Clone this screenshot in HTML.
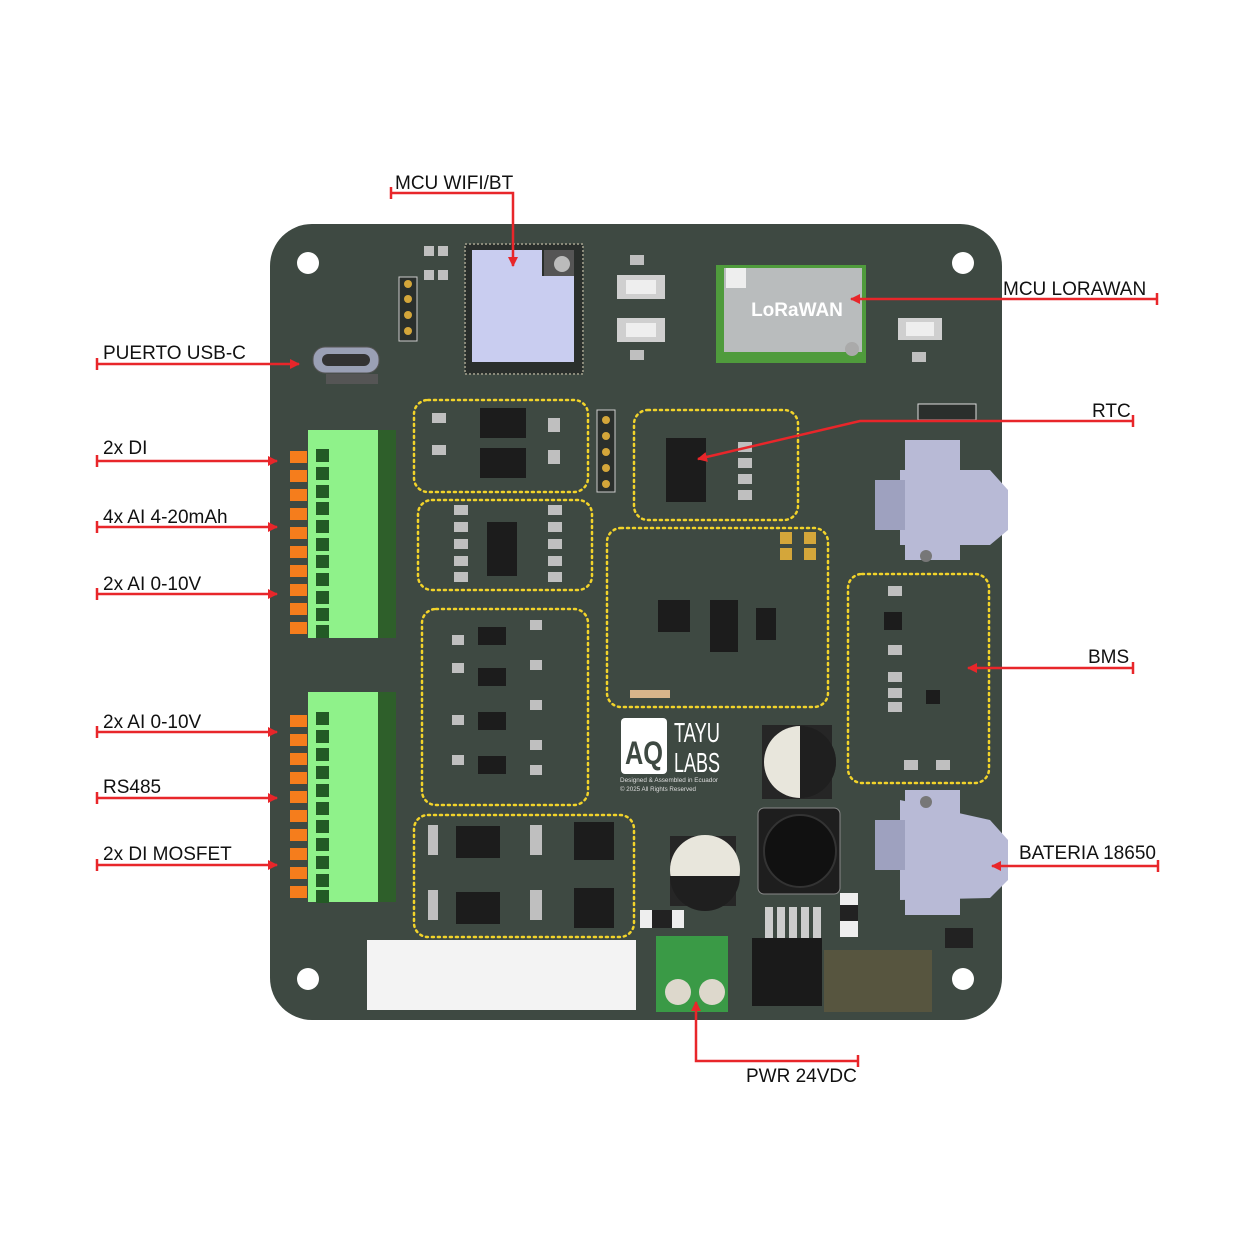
<!DOCTYPE html>
<html><head><meta charset="utf-8"><style>
html,body{margin:0;padding:0;background:#fff;}
svg{display:block;}
text{font-family:"Liberation Sans",sans-serif;}
</style></head><body>
<svg width="1256" height="1256" viewBox="0 0 1256 1256" xmlns="http://www.w3.org/2000/svg">
<defs>
<marker id="ar" markerWidth="10" markerHeight="10" refX="9" refY="5" orient="auto" markerUnits="userSpaceOnUse">
<path d="M0,0 L10,5 L0,10 z" fill="#e8262a"/></marker>
</defs>
<rect x="270" y="224" width="732" height="796" rx="42" fill="#3e4942"/>
<g fill="#fff">
<circle cx="308" cy="263" r="11"/><circle cx="963" cy="263" r="11"/>
<circle cx="308" cy="979" r="11"/><circle cx="963" cy="979" r="11"/>
</g>
<rect x="465" y="244" width="118" height="130" fill="#2a2f2c" stroke="#8a8a7a" stroke-width="2" stroke-dasharray="2 2"/>
<path d="M472,250 H542 V276 H574 V362 H472 Z" fill="#c9cdf0"/>
<rect x="544" y="250" width="30" height="26" fill="#555"/>
<circle cx="562" cy="264" r="8" fill="#bbb"/>
<rect x="399" y="277" width="18" height="64" fill="#2a2f2c" stroke="#ccc" stroke-width="1"/>
<g fill="#d4a63a"><circle cx="408" cy="284" r="4"/><circle cx="408" cy="299" r="4"/><circle cx="408" cy="315" r="4"/><circle cx="408" cy="331" r="4"/></g>
<rect x="617" y="275" width="48" height="24" fill="#cfcfcf"/><rect x="626" y="280" width="30" height="14" fill="#eee"/>
<rect x="617" y="318" width="48" height="24" fill="#cfcfcf"/><rect x="626" y="323" width="30" height="14" fill="#eee"/>
<rect x="898" y="318" width="44" height="22" fill="#cfcfcf"/><rect x="906" y="322" width="28" height="14" fill="#eee"/>
<rect x="716" y="265" width="150" height="98" fill="#4f9b3c"/>
<rect x="724" y="268" width="138" height="84" fill="#b9bcbd"/>
<rect x="726" y="268" width="20" height="20" fill="#eee"/>
<text x="797" y="316" font-size="19" fill="#fff" text-anchor="middle" font-weight="bold">LoRaWAN</text>
<circle cx="852" cy="349" r="7" fill="#aaa"/>
<rect x="313" y="347" width="66" height="26" rx="12" fill="#9aa0b5" stroke="#555"/>
<rect x="322" y="354" width="48" height="12" rx="6" fill="#333"/>
<rect x="326" y="374" width="52" height="10" fill="#555"/>
<g>
<rect x="378" y="430" width="18" height="208" fill="#2e5f2a"/>
<rect x="308" y="430" width="70" height="208" fill="#8ff28a"/>
<rect x="378" y="692" width="18" height="210" fill="#2e5f2a"/>
<rect x="308" y="692" width="70" height="210" fill="#8ff28a"/>
</g>
<g fill="#f57d1c">
<rect x="290" y="451" width="17" height="12"/><rect x="290" y="470" width="17" height="12"/><rect x="290" y="489" width="17" height="12"/><rect x="290" y="508" width="17" height="12"/><rect x="290" y="527" width="17" height="12"/><rect x="290" y="546" width="17" height="12"/><rect x="290" y="565" width="17" height="12"/><rect x="290" y="584" width="17" height="12"/><rect x="290" y="603" width="17" height="12"/><rect x="290" y="622" width="17" height="12"/>
<rect x="290" y="715" width="17" height="12"/><rect x="290" y="734" width="17" height="12"/><rect x="290" y="753" width="17" height="12"/><rect x="290" y="772" width="17" height="12"/><rect x="290" y="791" width="17" height="12"/><rect x="290" y="810" width="17" height="12"/><rect x="290" y="829" width="17" height="12"/><rect x="290" y="848" width="17" height="12"/><rect x="290" y="867" width="17" height="12"/><rect x="290" y="886" width="17" height="12"/>
</g>
<g fill="#235a25">
<rect x="316" y="449" width="13" height="13"/><rect x="316" y="467" width="13" height="13"/><rect x="316" y="485" width="13" height="13"/><rect x="316" y="502" width="13" height="13"/><rect x="316" y="520" width="13" height="13"/><rect x="316" y="538" width="13" height="13"/><rect x="316" y="555" width="13" height="13"/><rect x="316" y="573" width="13" height="13"/><rect x="316" y="591" width="13" height="13"/><rect x="316" y="608" width="13" height="13"/><rect x="316" y="625" width="13" height="13"/>
<rect x="316" y="712" width="13" height="13"/><rect x="316" y="730" width="13" height="13"/><rect x="316" y="748" width="13" height="13"/><rect x="316" y="766" width="13" height="13"/><rect x="316" y="784" width="13" height="13"/><rect x="316" y="802" width="13" height="13"/><rect x="316" y="820" width="13" height="13"/><rect x="316" y="838" width="13" height="13"/><rect x="316" y="856" width="13" height="13"/><rect x="316" y="874" width="13" height="13"/><rect x="316" y="890" width="13" height="13"/>
</g>
<g fill="none" stroke="#f2d32a" stroke-width="2.5" stroke-dasharray="2 4" stroke-linecap="round">
<rect x="414" y="400" width="174" height="92" rx="14"/>
<rect x="418" y="500" width="174" height="90" rx="14"/>
<rect x="634" y="410" width="164" height="110" rx="14"/>
<rect x="607" y="528" width="221" height="179" rx="14"/>
<rect x="422" y="609" width="166" height="196" rx="14"/>
<rect x="848" y="574" width="141" height="209" rx="14"/>
<rect x="414" y="815" width="220" height="122" rx="14"/>
</g>
<g fill="#1c1c1c">
<rect x="480" y="408" width="46" height="30"/><rect x="480" y="448" width="46" height="30"/>
<rect x="487" y="522" width="30" height="54"/>
<rect x="666" y="438" width="40" height="64"/>
<rect x="658" y="600" width="32" height="32"/>
<rect x="710" y="600" width="28" height="52"/>
<rect x="756" y="608" width="20" height="32"/>
<rect x="478" y="627" width="28" height="18"/><rect x="478" y="668" width="28" height="18"/>
<rect x="478" y="712" width="28" height="18"/><rect x="478" y="756" width="28" height="18"/>
<rect x="456" y="826" width="44" height="32"/><rect x="574" y="822" width="40" height="38"/>
<rect x="456" y="892" width="44" height="32"/><rect x="574" y="888" width="40" height="40"/>
<rect x="884" y="612" width="18" height="18"/><rect x="926" y="690" width="14" height="14"/>
</g>
<g fill="#bfbfbf">
<rect x="424" y="246" width="10" height="10"/><rect x="438" y="246" width="10" height="10"/><rect x="424" y="270" width="10" height="10"/><rect x="438" y="270" width="10" height="10"/>
<rect x="630" y="255" width="14" height="10"/><rect x="630" y="350" width="14" height="10"/><rect x="912" y="352" width="14" height="10"/>
<rect x="432" y="413" width="14" height="10"/><rect x="432" y="445" width="14" height="10"/><rect x="548" y="418" width="12" height="14"/><rect x="548" y="450" width="12" height="14"/>
<rect x="454" y="505" width="14" height="10"/><rect x="454" y="522" width="14" height="10"/><rect x="454" y="539" width="14" height="10"/><rect x="454" y="556" width="14" height="10"/><rect x="454" y="572" width="14" height="10"/>
<rect x="548" y="505" width="14" height="10"/><rect x="548" y="522" width="14" height="10"/><rect x="548" y="539" width="14" height="10"/><rect x="548" y="556" width="14" height="10"/><rect x="548" y="572" width="14" height="10"/>
<rect x="738" y="442" width="14" height="10"/><rect x="738" y="458" width="14" height="10"/><rect x="738" y="474" width="14" height="10"/><rect x="738" y="490" width="14" height="10"/>
<rect x="452" y="635" width="12" height="10"/><rect x="452" y="663" width="12" height="10"/><rect x="452" y="715" width="12" height="10"/><rect x="452" y="755" width="12" height="10"/>
<rect x="530" y="620" width="12" height="10"/><rect x="530" y="660" width="12" height="10"/><rect x="530" y="700" width="12" height="10"/><rect x="530" y="740" width="12" height="10"/><rect x="530" y="765" width="12" height="10"/>
<rect x="888" y="586" width="14" height="10"/><rect x="888" y="645" width="14" height="10"/><rect x="888" y="672" width="14" height="10"/><rect x="888" y="688" width="14" height="10"/><rect x="888" y="702" width="14" height="10"/><rect x="904" y="760" width="14" height="10"/><rect x="936" y="760" width="14" height="10"/>
<rect x="428" y="825" width="10" height="30"/><rect x="428" y="890" width="10" height="30"/><rect x="530" y="825" width="12" height="30"/><rect x="530" y="890" width="12" height="30"/>
</g>
<rect x="597" y="410" width="18" height="82" fill="#2a2f2c" stroke="#ccc" stroke-width="1"/>
<g fill="#d4a63a"><circle cx="606" cy="420" r="4"/><circle cx="606" cy="436" r="4"/><circle cx="606" cy="452" r="4"/><circle cx="606" cy="468" r="4"/><circle cx="606" cy="484" r="4"/>
<rect x="780" y="532" width="12" height="12"/><rect x="804" y="532" width="12" height="12"/><rect x="780" y="548" width="12" height="12"/><rect x="804" y="548" width="12" height="12"/></g>
<rect x="918" y="404" width="58" height="16" fill="#2a2f2c" stroke="#ddd"/>
<rect x="630" y="690" width="40" height="8" fill="#d8b48a"/>
<!-- logo -->
<rect x="621" y="718" width="46" height="56" rx="4" fill="#fff"/>
<text x="644" y="764" font-size="32" font-weight="bold" fill="#3e4942" text-anchor="middle" textLength="38" lengthAdjust="spacingAndGlyphs">AQ</text>
<text x="674" y="742" font-size="28" fill="#fff" textLength="46" lengthAdjust="spacingAndGlyphs">TAYU</text>
<text x="674" y="772" font-size="28" fill="#fff" textLength="46" lengthAdjust="spacingAndGlyphs">LABS</text>
<text x="620" y="782" font-size="6.5" fill="#ddd" textLength="98" lengthAdjust="spacingAndGlyphs">Designed &amp; Assembled in Ecuador</text>
<text x="620" y="791" font-size="6.5" fill="#ddd" textLength="76" lengthAdjust="spacingAndGlyphs">© 2025 All Rights Reserved</text>
<rect x="762" y="725" width="70" height="74" fill="#262626"/>
<circle cx="800" cy="762" r="36" fill="#262626"/>
<path d="M800,726 A36,36 0 0,1 800,798 Z" fill="#1f1f1f"/>
<path d="M800,726 A36,36 0 0,0 800,798 Z" fill="#e8e6dc"/>
<rect x="670" y="836" width="66" height="70" fill="#262626"/>
<circle cx="705" cy="870" r="35" fill="#e8e6dc"/>
<path d="M670,876 A35,35 0 0,0 740,876 Z" fill="#1f1f1f"/>
<rect x="758" y="808" width="82" height="86" rx="6" fill="#1e1e1e" stroke="#888" stroke-width="1"/>
<circle cx="800" cy="851" r="36" fill="#111" stroke="#333" stroke-width="2"/>
<rect x="765" y="907" width="8" height="32" fill="#ccc"/><rect x="777" y="907" width="8" height="32" fill="#ccc"/><rect x="789" y="907" width="8" height="32" fill="#ccc"/><rect x="801" y="907" width="8" height="32" fill="#ccc"/><rect x="813" y="907" width="8" height="32" fill="#ccc"/>
<rect x="752" y="938" width="70" height="68" fill="#1a1a1a"/>
<rect x="824" y="950" width="108" height="62" fill="#57553f"/>
<rect x="640" y="910" width="44" height="18" fill="#eee"/><rect x="652" y="910" width="20" height="18" fill="#222"/>
<rect x="840" y="893" width="18" height="44" fill="#eee"/><rect x="840" y="905" width="18" height="16" fill="#222"/>
<rect x="656" y="936" width="72" height="76" fill="#3a9a46"/>
<circle cx="678" cy="992" r="13" fill="#ddd8cc"/><circle cx="712" cy="992" r="13" fill="#ddd8cc"/>
<rect x="367" y="940" width="269" height="70" fill="#f3f3f3"/>
<g fill="#b8bad6">
<path d="M900,470 L990,470 L1008,490 L1008,530 L990,545 L900,545 Z"/>
<rect x="905" y="440" width="55" height="120"/>
<rect x="875" y="480" width="30" height="50" fill="#9ea1bf"/>
<path d="M900,800 L990,820 L1008,840 L1008,880 L990,898 L900,900 Z"/>
<rect x="905" y="790" width="55" height="125"/>
<rect x="875" y="820" width="30" height="50" fill="#9ea1bf"/>
</g>
<circle cx="926" cy="556" r="6" fill="#777"/><circle cx="926" cy="802" r="6" fill="#777"/>
<rect x="945" y="928" width="28" height="20" fill="#222"/>
<g stroke="#e8262a" stroke-width="2.5" fill="none">
<path d="M391,193 H513 V266" marker-end="url(#ar)"/><path d="M391,187 V199"/>
<path d="M1157,299 H851" marker-end="url(#ar)"/><path d="M1157,293 V305"/>
<path d="M97,364 H299" marker-end="url(#ar)"/><path d="M97,358 V370"/>
<path d="M1133,421 H860 L698,459" marker-end="url(#ar)"/><path d="M1133,415 V427"/>
<path d="M97,461 H277" marker-end="url(#ar)"/><path d="M97,455 V467"/>
<path d="M97,527 H277" marker-end="url(#ar)"/><path d="M97,521 V533"/>
<path d="M97,594 H277" marker-end="url(#ar)"/><path d="M97,588 V600"/>
<path d="M97,732 H277" marker-end="url(#ar)"/><path d="M97,726 V738"/>
<path d="M97,798 H277" marker-end="url(#ar)"/><path d="M97,792 V804"/>
<path d="M97,865 H277" marker-end="url(#ar)"/><path d="M97,859 V871"/>
<path d="M1133,668 H968" marker-end="url(#ar)"/><path d="M1133,662 V674"/>
<path d="M1158,866 H992" marker-end="url(#ar)"/><path d="M1158,860 V872"/>
<path d="M858,1061 H696 V1002" marker-end="url(#ar)"/><path d="M858,1055 V1067"/>
</g>
<g font-size="19" fill="#111">
<text x="395" y="189">MCU WIFI/BT</text>
<text x="1003" y="295">MCU LORAWAN</text>
<text x="103" y="359">PUERTO USB-C</text>
<text x="1092" y="417">RTC</text>
<text x="103" y="454">2x DI</text>
<text x="103" y="523">4x AI 4-20mAh</text>
<text x="103" y="590">2x AI 0-10V</text>
<text x="103" y="728">2x AI 0-10V</text>
<text x="103" y="793">RS485</text>
<text x="103" y="860">2x DI MOSFET</text>
<text x="1088" y="663">BMS</text>
<text x="1019" y="859">BATERIA 18650</text>
<text x="746" y="1082">PWR 24VDC</text>
</g>
</svg>
</body></html>
